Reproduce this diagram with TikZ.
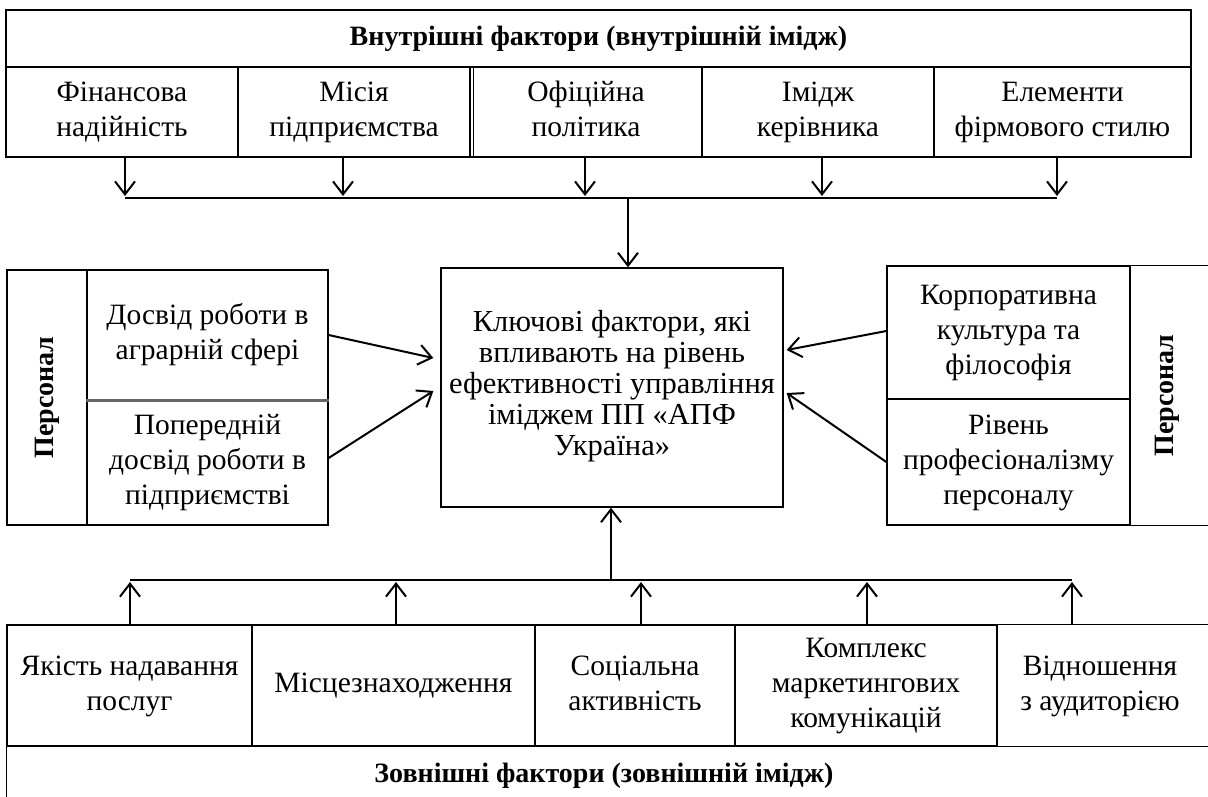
\documentclass[tikz,border=0pt]{standalone}
\usepackage{fontspec}
\setmainfont{Liberation Serif}
\usetikzlibrary{arrows.meta}
\begin{document}
\begin{tikzpicture}[x=1pt,y=-1pt,
  box/.style={draw, line width=1.3pt, inner sep=0pt, align=center, font=\fontsize{29.5}{35}\selectfont},
  txt/.style={inner sep=0pt, align=center, font=\fontsize{29.5}{35}\selectfont},
  bold/.style={font=\fontsize{28}{34}\selectfont\bfseries},
  arr/.style={line width=2pt, -{Straight Barb[length=13pt,width=20pt,line width=2pt]}},
  bus/.style={line width=2pt},
  frame/.style={line width=1.3pt}]
\useasboundingbox (0,0) rectangle (1208,796);
% ---- top block ----
\node[box, bold, minimum width=1185, minimum height=57] (tin) at (598.5,38.5) {\strut Внутрішні фактори (внутрішній імідж)};
\node[box, minimum width=232, minimum height=90] (f1) at (122,112) {\strut Фінансова\\надійність\strut};
\node[box, minimum width=232, minimum height=90] (f2) at (354,112) {\strut Місія\\підприємства\strut};
\node[box, minimum width=232, minimum height=90] (f3) at (586,112) {\strut Офіційна\\політика\strut};
\node[box, minimum width=232, minimum height=90] (f4) at (818,112) {\strut Імідж\\керівника\strut};
\node[box, minimum width=257, minimum height=90] (f5) at (1062.5,112) {\strut Елементи\\фірмового стилю\strut};
\draw[line width=1pt] ([xshift=3pt]f2.north east) -- ([xshift=3pt]f2.south east);
% top bus
\coordinate (t1) at (125,198);
\coordinate (t2) at (343,198);
\coordinate (t3) at (585,198);
\coordinate (t4) at (822,198);
\coordinate (t5) at (1057,198);
\coordinate (tc) at (628,198);
\draw[arr] (t1 |- f1.south) -- ([yshift=2pt]t1);
\draw[arr] (t2 |- f2.south) -- ([yshift=2pt]t2);
\draw[arr] (t3 |- f3.south) -- ([yshift=2pt]t3);
\draw[arr] (t4 |- f4.south) -- ([yshift=2pt]t4);
\draw[arr] (t5 |- f5.south) -- ([yshift=2pt]t5);
\draw[bus] (t1) -- (t5);
% ---- centre ----
\node[box, font=\fontsize{30.5}{31}\selectfont, minimum width=342, minimum height=239] (key) at (612,387.5)
  {\strut Ключові фактори, які\\впливають на рівень\\ефективності управління\\іміджем ПП «АПФ\\Україна»\strut};
\draw[arr] (tc) -- (tc |- key.north);
% ---- left block ----
\node[box, bold, rotate=90, minimum width=255, minimum height=80] (lp) at (47,397.5) {Персонал};
\node[box, minimum width=241, minimum height=130] (l1) at (207.5,335) {\strut Досвід роботи в\\аграрній сфері\strut};
\node[box, minimum width=241, minimum height=125] (l2) at (207.5,462.5) {\strut Попередній\\досвід роботи в\\підприємстві\strut};
\draw[line width=3pt, gray!80!black] (l1.south west) -- (l1.south east);
\draw[arr] (l1.east) -- ([xshift=-7pt,yshift=29.5pt]key.west);
\draw[arr] ([yshift=4.5pt]l2.east) -- ([xshift=-7pt,yshift=-3.5pt]key.west);
% ---- right block ----
\node[box, minimum width=243, minimum height=133] (r1) at (1008.5,332.5) {\strut Корпоративна\\культура та\\філософія\strut};
\node[box, minimum width=243, minimum height=126] (r2) at (1008.5,462) {\strut Рівень\\професіоналізму\\персоналу\strut};
\node[txt, bold, rotate=90] (rp) at (1167,395.5) {Персонал};
\draw[frame] (r1.north east) -- ++(90,0);
\draw[frame] (r2.south east) -- ++(90,0);
\draw[arr] ([yshift=1.5pt]r1.west) -- ([xshift=3pt,yshift=37.5pt]key.east);
\draw[arr] (r2.west) -- ([xshift=3pt,yshift=-5.5pt]key.east);
% ---- bottom block ----
\node[box, minimum width=245, minimum height=121] (b1) at (129.5,685.5) {\strut Якість надавання\\послуг\strut};
\node[box, minimum width=283, minimum height=121] (b2) at (393.5,685.5) {\strut Місцезнаходження\strut};
\node[box, minimum width=200, minimum height=121] (b3) at (635,685.5) {\strut Соціальна\\активність\strut};
\node[box, minimum width=262, minimum height=121] (b4) at (866,685.5) {\strut Комплекс\\маркетингових\\комунікацій\strut};
\node[txt] (b5) at (1100,685.5) {\strut Відношення\\з аудиторією\strut};
\draw[frame] (b4.north east) -- ++(220,0);
\draw[frame] (b4.south east) -- ++(220,0);
\draw[frame] (b1.south west) -- ++(0,60);
\node[txt, bold] (tout) at (604,776) {Зовнішні фактори (зовнішній імідж)};
% bottom bus
\coordinate (u1) at (130,580);
\coordinate (u2) at (396,580);
\coordinate (u3) at (641,580);
\coordinate (u4) at (867,580);
\coordinate (u5) at (1072,580);
\coordinate (uc) at (611,580);
\draw[arr] (u1 |- b1.north) -- ([yshift=-2pt]u1);
\draw[arr] (u2 |- b2.north) -- ([yshift=-2pt]u2);
\draw[arr] (u3 |- b3.north) -- ([yshift=-2pt]u3);
\draw[arr] (u4 |- b4.north) -- ([yshift=-2pt]u4);
\draw[arr] (u5 |- b1.north) -- ([yshift=-2pt]u5);
\draw[bus] (u1) -- (u5);
\draw[arr] (uc) -- (uc |- key.south);
\end{tikzpicture}
\end{document}
